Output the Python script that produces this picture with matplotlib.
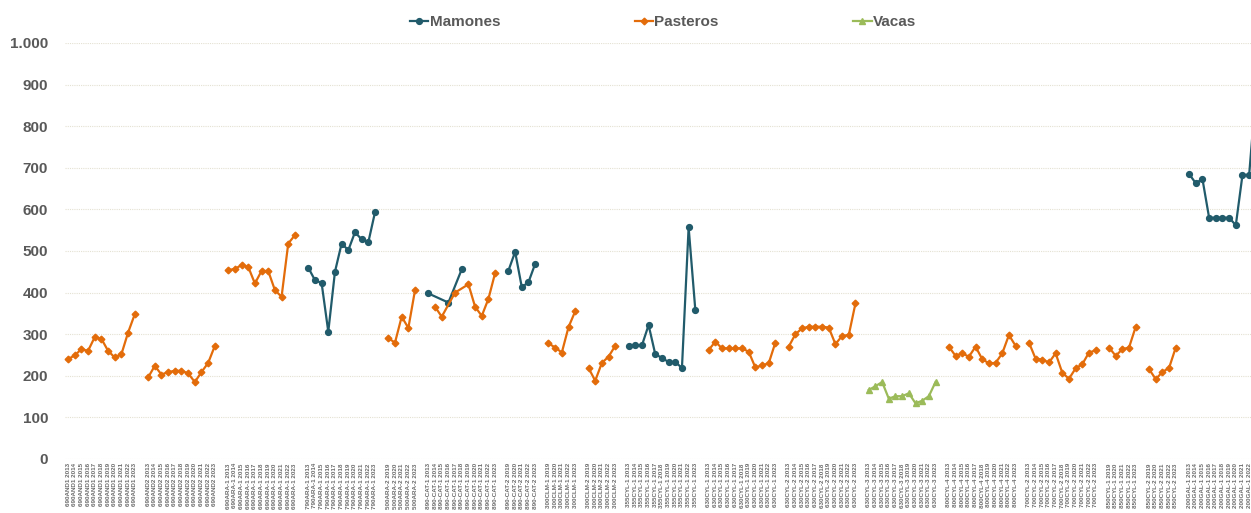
import matplotlib
matplotlib.use("Agg")
import matplotlib.pyplot as plt
from matplotlib.ticker import FuncFormatter

plt.rcParams["font.family"] = ["Liberation Sans", "DejaVu Sans"]

# group codes, first year and number of years per group
group_codes = ["690AND1", "690AND2", "690ARA-1", "790ARA-1", "500ARA-2", "890-CAT-1",
               "890-CAT-2", "300CLM-1", "300CLM-2", "355CYL-1", "630CYL-1", "630CYL-2",
               "630CYL-3", "800CYL-4", "700CYL-2", "850CYL-1", "850CYL-2", "200GAL-1"]
group_start = [2013, 2013, 2013, 2013, 2019, 2013, 2019, 2019, 2019, 2013, 2013, 2013,
               2013, 2013, 2013, 2019, 2019, 2013]
group_len = [11, 11, 11, 11, 5, 11, 5, 5, 5, 11, 11, 11, 11, 11, 11, 5, 5, 11]

N = None
# values per group (None = no value)
mamones = [
    None, None, None,
    [460, 430, 423, 306, 450, 518, 502, 545, 528, 521, 593],
    None,
    [398, N, N, 376, N, 456, N, N, N, N, N],
    [453, 498, 413, 425, 469],
    None, None,
    [272, 273, 273, 322, 252, 243, 233, 233, 219, 557, 359],
    None, None, None, None, None, None, None,
    [685, 663, 673, 580, 580, 580, 580, 562, 683, 683, 880],
]
pasteros = [
    [240, 249, 264, 260, 293, 289, 260, 244, 252, 304, 348],
    [196, 224, 203, 209, 212, 212, 206, 185, 209, 231, 272],
    [454, 457, 466, 462, 422, 452, 452, 406, 390, 518, 538],
    None,
    [290, 280, 342, 315, 406],
    [N, 366, 342, N, 400, N, 420, 366, 344, 385, 447],
    None,
    [278, 268, 256, 317, 355],
    [219, 188, 231, 246, 272],
    None,
    [262, 282, 266, 266, 266, 266, 258, 220, 225, 230, 280],
    [270, 300, 314, 318, 318, 318, 316, 276, 296, 298, 374],
    None,
    [270, 248, 254, 246, 270, 240, 230, 231, 254, 298, 272],
    [280, 241, 239, 232, 254, 207, 193, 218, 228, 256, 261],
    [268, 248, 264, 268, 318],
    [216, 192, 209, 219, 268],
    None,
]
vacas = [
    None, None, None, None, None, None, None, None, None, None, None, None,
    [166, 175, 185, 145, 151, 151, 158, 134, 140, 151, 185],
    None, None, None, None, None,
]

fig = plt.figure(figsize=(12.51, 5.13), dpi=100)
ax = fig.add_axes([64.7 / 1251, 54 / 513, 179 * 6.673 / 1251, 416 / 513])

styles = {
    "Mamones": dict(color="#215B6B", marker="o", markersize=4.2),
    "Pasteros": dict(color="#E36C0A", marker="D", markersize=3.4),
    "Vacas": dict(color="#9BBB59", marker="^", markersize=4.5),
}

labels = []
starts = []
pos = 0
for code, y0, n in zip(group_codes, group_start, group_len):
    starts.append(pos)
    labels += [f"{code} {y0 + k}" for k in range(n)]
    labels.append("")
    pos += n + 1
ncat = pos - 1
labels = labels[:ncat]

handles = {}
for name, series in [("Mamones", mamones), ("Pasteros", pasteros), ("Vacas", vacas)]:
    for g, vals in enumerate(series):
        if vals is None:
            continue
        xs = [starts[g] + k for k, v in enumerate(vals) if v is not None]
        ys = [v for v in vals if v is not None]
        line, = ax.plot(xs, ys, lw=1.6, clip_on=False, zorder=3, **styles[name])
        handles[name] = line

ax.set_xlim(-0.5, ncat - 0.5)
ax.set_ylim(0, 1000)
ax.set_yticks(range(0, 1001, 100))
ax.yaxis.set_major_formatter(FuncFormatter(lambda v, p: f"{int(v):,}".replace(",", ".")))
ax.set_xticks(range(ncat))
ax.set_xticklabels(labels, rotation=90, fontsize=4.5, fontweight="bold", color="#6B6B6B")
ax.tick_params(axis="x", length=0, pad=3)
ax.tick_params(axis="y", length=0, pad=12, labelsize=11, labelcolor="#595959")
for t in ax.get_yticklabels():
    t.set_fontweight("bold")
ax.grid(axis="y", color="#E4E1D2", linestyle=(0, (1, 1)), lw=0.8)
ax.set_axisbelow(True)
for s in ax.spines.values():
    s.set_visible(False)

leg = fig.legend([handles[k] for k in ["Mamones", "Pasteros", "Vacas"]],
                 ["Mamones", "Pasteros", "Vacas"], loc="center",
                 bbox_to_anchor=(663 / 1251, 1 - 22 / 513), ncol=3, frameon=False,
                 handlelength=1.2, handletextpad=0.1, columnspacing=8.8,
                 prop=dict(size=11, weight="bold"))
for t in leg.get_texts():
    t.set_color("#595959")

fig.savefig("out.png", dpi=100)
